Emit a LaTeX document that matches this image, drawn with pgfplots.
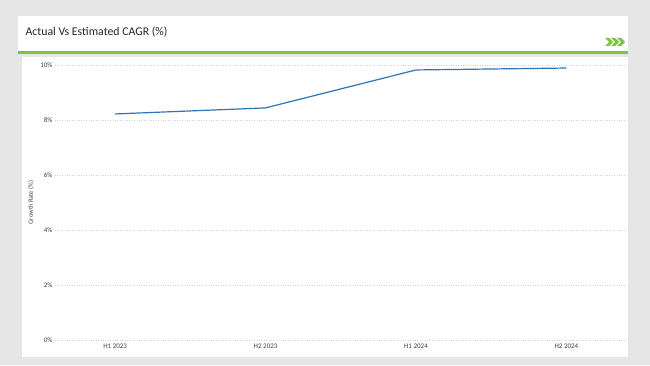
\documentclass[border=0pt]{standalone}
\usepackage{pgfplots}
\pgfplotsset{compat=1.18}
\usepackage{fontspec}
\setmainfont{Carlito}
\definecolor{bg}{HTML}{E6E6E6}
\definecolor{grn}{HTML}{7DC242}
\definecolor{lineblue}{HTML}{2E75B6}
\definecolor{txt}{HTML}{404040}
\begin{document}
\begin{tikzpicture}
\begin{scope}[x=1pt,y=1pt]
\useasboundingbox (0,0) rectangle (650,365);
\fill[bg] (0,0) rectangle (650,365);
% title card
\fill[white] (18,365-16) rectangle (628,365-51);
\fill[grn] (18,365-51) rectangle (628,365-54);
% plot panel
\fill[white] (22,365-57) rectangle (628,365-357);
\node[anchor=west,text=black!85,font=\fontsize{11.8}{13}\selectfont] at (22,365-32) {Actual Vs Estimated CAGR (\%)};
% chevrons
\foreach \dx in {0,6,12}{
  \fill[grn] (605+\dx,365-38) -- (609+\dx,365-38) -- (613+\dx,365-42) -- (609+\dx,365-46) -- (605+\dx,365-46) -- (609+\dx,365-42) -- cycle;
}
\coordinate (origin) at (55,25);
\end{scope}
\begin{axis}[
  at={(origin)}, anchor=south west,
  scale only axis, width=570pt, height=275pt,
  xmin=-0.4, xmax=3.39, ymin=0, ymax=10,
  axis line style={draw=none},
  tick style={draw=none},
  xtick={0,1,2,3},
  xticklabels={H1 2023,H2 2023,H1 2024,H2 2024},
  ytick={0,2,4,6,8,10},
  yticklabel={\pgfmathprintnumber{\tick}\%},
  ymajorgrids,
  grid style={dotted, black!18, line width=0.4pt},
  ticklabel style={font=\fontsize{7}{8}\selectfont, text=txt},
  /pgf/number format/assume math mode=true,
  xticklabel style={yshift=-0.5pt},
  yticklabel style={xshift=1pt},
  every axis y label/.style={at={(ticklabel cs:0.5,2pt)}, rotate=90, anchor=south},
  ylabel={Growth Rate (\%)},
  ylabel style={font=\fontsize{6.5}{7}\selectfont, text=txt, inner sep=1pt},
  clip=false,
]
\addplot[lineblue, line width=1.2pt] coordinates {(0,8.22) (1,8.44) (2,9.82) (3,9.89)};
\end{axis}
\end{tikzpicture}
\end{document}
